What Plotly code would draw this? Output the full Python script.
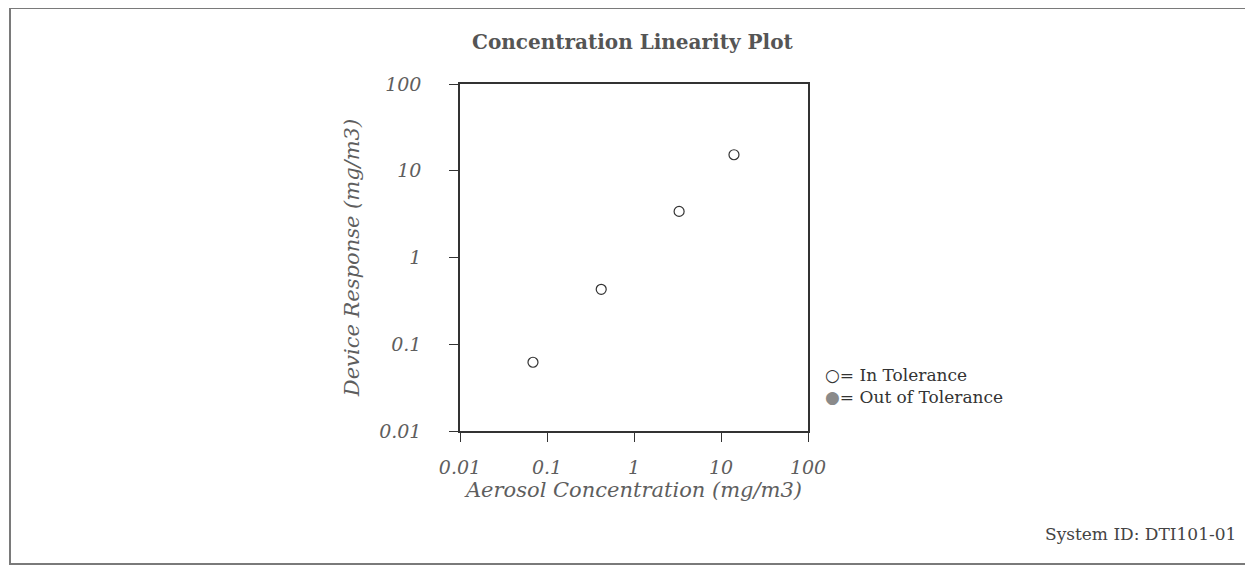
import plotly.graph_objects as go

# Data
aerosol_conc = [0.069, 0.42, 3.3, 14.1]      # mg/m3 (x)
device_resp = [0.062, 0.43, 3.4, 15.3]       # mg/m3 (y)
tick_vals = [0.01, 0.1, 1, 10, 100]
tick_text = ["0.01", "0.1", "1", "10", "100"]

OFF = 8  # page body margin
W, H = 1253 - OFF, 571 - OFF
L, R, T, B = 460 - OFF, 808 - OFF, 84 - OFF, 431 - OFF

def px(x):
    return (x - OFF - L) / (R - L)

def py(y):
    return (B - (y - OFF)) / (B - T)

serif = "DejaVu Serif, serif"
gray = "#5e5e5e"

fig = go.Figure()
fig.add_trace(go.Scatter(
    x=aerosol_conc, y=device_resp, mode="markers",
    name="In Tolerance", showlegend=False,
    marker=dict(symbol="circle-open", size=10, color="#333333", line=dict(width=1.2)),
))

axis_common = dict(
    type="log", range=[-2, 2], tickvals=tick_vals, ticktext=tick_text,
    showgrid=False, zeroline=False, showline=True, mirror=True,
    linecolor="#333333", linewidth=1.5, ticks="outside", ticklen=9,
    tickcolor="#333333", tickwidth=1.2,
    tickfont=dict(family=serif, size=19, color=gray, style="italic"),
)

fig.update_xaxes(**axis_common,
                 title=dict(text="Aerosol Concentration (mg/m3)", standoff=0,
                            font=dict(family=serif, size=21, color=gray, style="italic")),
                 ticklabelstandoff=9)
fig.update_yaxes(**axis_common,
                 title=dict(text="Device Response (mg/m3)", standoff=14,
                            font=dict(family=serif, size=21, color=gray, style="italic")),
                 ticklabelstandoff=24)

fig.add_shape(type="rect", xref="paper", yref="paper",
              x0=px(10), x1=px(1249), y0=py(564), y1=py(8),
              line=dict(color="#7a7a7a", width=2), layer="below")

fig.add_annotation(text="<b>Concentration Linearity Plot</b>", xref="paper", yref="paper",
                   x=px(632), y=py(42), yanchor="middle", showarrow=False,
                   font=dict(family=serif, size=20, color="#555555"))
fig.add_annotation(text="System ID: DTI101-01", xref="paper", yref="paper",
                   x=px(1238), y=py(534), xanchor="right", yanchor="middle", showarrow=False,
                   font=dict(family=serif, size=17, color="#444444"))
fig.add_annotation(text="○= In Tolerance", xref="paper", yref="paper",
                   x=px(823), y=py(375), xanchor="left", yanchor="middle", showarrow=False,
                   font=dict(family=serif, size=17, color="#333333"))
fig.add_annotation(text="<span style='color:#8a8a8a'>●</span>= Out of Tolerance",
                   xref="paper", yref="paper",
                   x=px(823), y=py(397), xanchor="left", yanchor="middle", showarrow=False,
                   font=dict(family=serif, size=17, color="#333333"))

fig.update_layout(
    width=W, height=H,
    margin=dict(l=L, r=W - R, t=T, b=H - B),
    paper_bgcolor="white", plot_bgcolor="white",
    showlegend=False,
)

fig.write_html("out.html")
